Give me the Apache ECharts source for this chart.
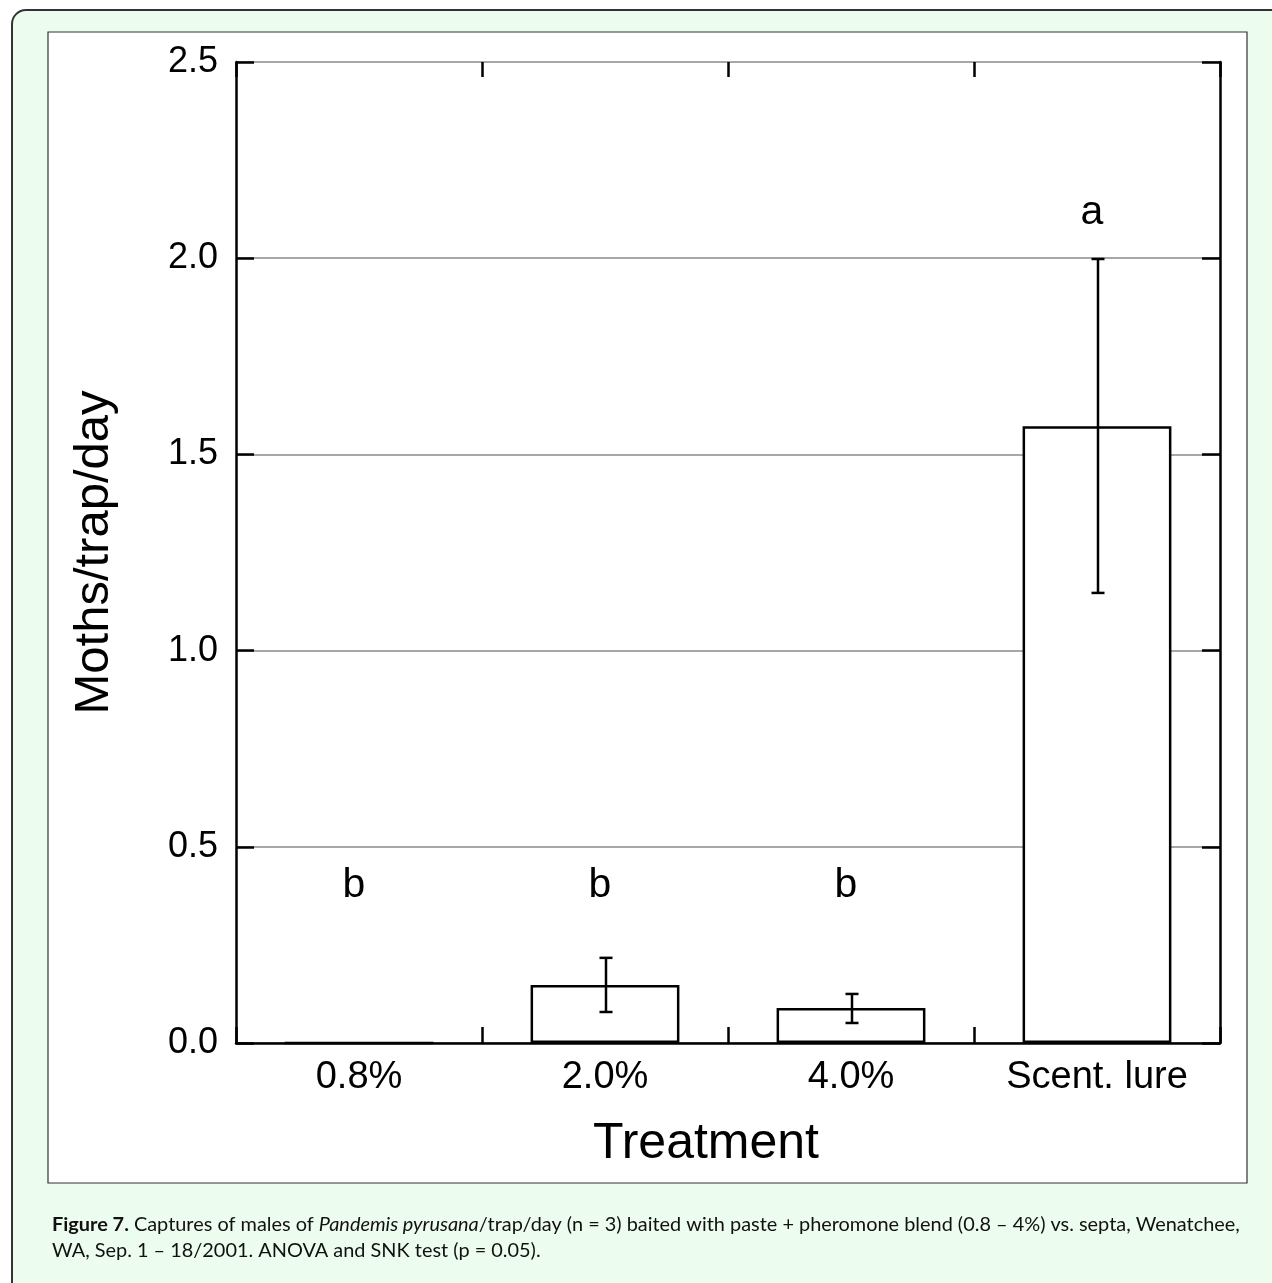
<!DOCTYPE html>
<html>
<head>
<meta charset="utf-8">
<script src="https://cdn.jsdelivr.net/npm/echarts@6/dist/echarts.min.js"></script>
<style>
html,body{margin:0;padding:0;background:#fff;}
#chart{width:1272px;height:1283px;}
</style>
</head>
<body>
<div id="chart"></div>
<script>
// ---- data ----
const categories = ['0.8%', '2.0%', '4.0%', 'Scent. lure'];
const means = [0, 0.148, 0.089, 1.572];
const errLow = [0, 0.079, 0.051, 1.147];
const errHigh = [0, 0.217, 0.125, 1.998];
const groupLetters = ['b', 'b', 'b', 'a'];
const letterLevel = [0.40, 0.40, 0.40, 2.115];
const yTicks = [0, 0.5, 1.0, 1.5, 2.0, 2.5];

const chart = echarts.init(document.getElementById('chart'), null, {renderer: 'canvas'});
const FF = '"Liberation Sans", Arial, Helvetica, sans-serif';
const CF = 'Lato, "Noto Sans", sans-serif';

const errData = categories.map((c, i) => [i, errLow[i], errHigh[i]]).filter((d, i) => errHigh[i] > errLow[i]);
const letterData = categories.map((c, i) => [i, letterLevel[i]]);

const option = {
  animation: false,
  backgroundColor: '#fff',
  graphic: [
    {type: 'rect', z: -100, shape: {x: 12, y: 10, width: 1300, height: 1300, r: 14},
     style: {fill: '#ecfcee', stroke: '#333', lineWidth: 2}},
    {type: 'rect', z: -99, shape: {x: 48, y: 32, width: 1199, height: 1151},
     style: {fill: '#fff', stroke: '#333', lineWidth: 1.2}},
    {type: 'text', z: 10, left: 52, top: 1212,
     style: {
       text: '{b|Figure 7.} Captures of males of {i|Pandemis pyrusana}/trap/day (n = 3) baited with paste + pheromone blend (0.8 – 4%) vs. septa, Wenatchee,\nWA, Sep. 1 – 18/2001. ANOVA and SNK test (p = 0.05).',
       font: '19.9px ' + CF,
       fill: '#111',
       lineHeight: 26,
       rich: {
         b: {fontWeight: 'bold', fontSize: 19.9, fontFamily: CF, fill: '#111', lineHeight: 26},
         i: {fontStyle: 'italic', fontSize: 19.9, fontFamily: CF, fill: '#111', lineHeight: 26}
       }
     }}
  ],
  grid: {left: 236, top: 62, width: 984, height: 981, containLabel: false},
  xAxis: [
    {type: 'category', data: categories, position: 'bottom',
     axisLine: {show: true, onZero: false, lineStyle: {color: '#000', width: 2.5}},
     axisTick: {show: true, inside: true, length: 16, alignWithLabel: false, lineStyle: {color: '#000', width: 2.5}},
     axisLabel: {fontSize: 38, color: '#000', fontFamily: FF, margin: 16},
     splitLine: {show: false},
     name: 'Treatment', nameLocation: 'middle', nameGap: 76,
     nameTextStyle: {fontSize: 50, color: '#000', fontFamily: FF, padding: [0, 44, 0, 0]}},
    {type: 'category', data: categories, position: 'top',
     axisLine: {show: false, onZero: false},
     axisTick: {show: true, inside: true, length: 15, alignWithLabel: false, lineStyle: {color: '#000', width: 2.5}},
     axisLabel: {show: false}, splitLine: {show: false}}
  ],
  yAxis: [
    {type: 'value', min: yTicks[0], max: yTicks[yTicks.length - 1], interval: 0.5, position: 'left',
     axisLine: {show: true, onZero: false, lineStyle: {color: '#000', width: 2.5}},
     axisTick: {show: true, inside: true, length: 18, lineStyle: {color: '#000', width: 2.5}},
     axisLabel: {fontSize: 36, color: '#000', fontFamily: FF, margin: 18, formatter: v => v.toFixed(1)},
     splitLine: {show: true, lineStyle: {color: '#8a8a8a', width: 1.5}},
     name: 'Moths/trap/day', nameLocation: 'middle', nameGap: 117,
     nameTextStyle: {fontSize: 49, color: '#000', fontFamily: FF}},
    {type: 'value', min: yTicks[0], max: yTicks[yTicks.length - 1], interval: 0.5, position: 'right',
     axisLine: {show: true, onZero: false, lineStyle: {color: '#000', width: 2.5}},
     axisTick: {show: true, inside: true, length: 18, lineStyle: {color: '#000', width: 2.5}},
     axisLabel: {show: false}, splitLine: {show: false}}
  ],
  series: [
    {type: 'bar', xAxisIndex: 0, yAxisIndex: 0, data: means, barWidth: '60.5%', z: 3,
     itemStyle: {color: '#fff', borderColor: '#000', borderWidth: 2.5}},
    {type: 'custom', xAxisIndex: 0, yAxisIndex: 0, z: 5, data: errData,
     renderItem: function (params, api) {
       const lo = api.coord([api.value(0), api.value(1)]);
       const hi = api.coord([api.value(0), api.value(2)]);
       const x = lo[0] + 1, w = 6.5;
       const ls = {stroke: '#000', lineWidth: 2.5};
       return {type: 'group', children: [
         {type: 'line', shape: {x1: x, y1: lo[1], x2: x, y2: hi[1]}, style: ls},
         {type: 'line', shape: {x1: x - w, y1: lo[1], x2: x + w, y2: lo[1]}, style: ls},
         {type: 'line', shape: {x1: x - w, y1: hi[1], x2: x + w, y2: hi[1]}, style: ls}
       ]};
     }},
    {type: 'custom', xAxisIndex: 0, yAxisIndex: 0, z: 6, data: letterData,
     renderItem: function (params, api) {
       const p = api.coord([api.value(0), api.value(1)]);
       return {type: 'text', x: p[0] - 5, y: p[1],
         style: {text: groupLetters[params.dataIndex], fontSize: 41, fontFamily: FF, fill: '#000',
                 align: 'center', verticalAlign: 'middle', textAlign: 'center', textVerticalAlign: 'middle'}};
     }}
  ]
};
chart.setOption(option);
</script>
</body>
</html>
